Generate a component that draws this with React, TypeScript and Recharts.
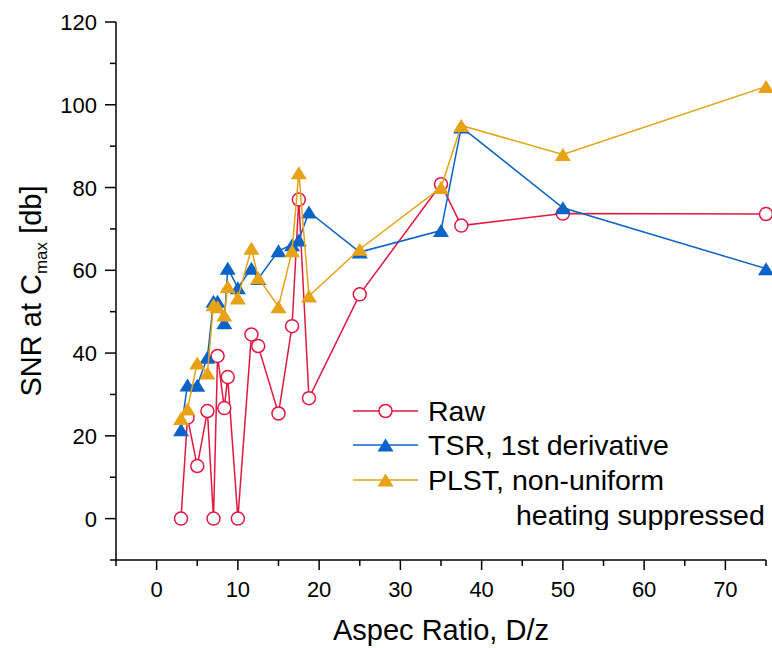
import React from "react";
import {
  ScatterChart,
  Scatter,
  XAxis,
  YAxis,
  Legend,
} from "recharts";

// Aspect ratio D/z, shared by the three series
const aspectRatio = [
  3, 3.8, 5, 6.25, 7, 7.5, 8.33, 8.75, 10, 11.67, 12.5, 15, 16.67, 17.5, 18.75,
  25, 35, 37.5, 50, 75,
];
const rawSnr = [
  0, 24.4, 12.7, 26, 0, 39.3, 26.7, 34.2, 0, 44.5, 41.7, 25.4, 46.5, 77.1,
  29.1, 54.2, 80.8, 70.8, 73.7, 73.6,
];
const tsrSnr = [
  21.5, 32.3, 32.2, 39, 52.5, 52.5, 47.3, 60.5, 55.8, 60.5, 58, 64.7, 66.2,
  67.3, 74.1, 64.4, 69.6, 94.6, 75.1, 60.4,
];
const plstSnr = [
  24.2, 26.5, 37.6, 35.2, 51.7, 51.2, 49.2, 56.1, 53.3, 65.3, 58.2, 51.2,
  64.7, 83.6, 53.8, 65.1, 80.0, 95.0, 88.0, 104.4,
];

const xTicks = [-5, 0, 5, 10, 15, 20, 25, 30, 35, 40, 45, 50, 55, 60, 65, 70, 75];
const yTicks = [-10, 0, 10, 20, 30, 40, 50, 60, 70, 80, 90, 100, 110, 120];

const RED = "#E2173F";
const BLUE = "#0A63C7";
const ORANGE = "#E8A218";

const toPoints = (ys: number[]) => aspectRatio.map((x, i) => ({ x, y: ys[i] }));

const Circle = ({ cx, cy }: any) => (
  <circle cx={cx} cy={cy} r={6.5} fill="#fff" stroke={RED} strokeWidth={1.5} />
);

const triangle = (color: string) => ({ cx, cy }: any) => (
  <polygon
    points={`${cx},${cy - 6.5} ${cx - 8},${cy + 6.5} ${cx + 8},${cy + 6.5}`}
    fill={color}
  />
);

const series = [
  { name: "Raw", color: RED, data: toPoints(rawSnr), shape: Circle },
  { name: "TSR, 1st derivative", color: BLUE, data: toPoints(tsrSnr), shape: triangle(BLUE) },
  { name: "PLST, non-uniform", color: ORANGE, data: toPoints(plstSnr), shape: triangle(ORANGE) },
];

const XTick = ({ x, y, payload }: any) => {
  const v = payload.value;
  const major = v % 10 === 0;
  return (
    <g>
      <line x1={x} x2={x} y1={y} y2={y + (major ? 10 : 6)} stroke="#000" strokeWidth={1.5} />
      {major && (
        <text x={x} y={y + 37} textAnchor="middle" fontSize={22} fill="#000">
          {v}
        </text>
      )}
    </g>
  );
};

const YTick = ({ x, y, payload }: any) => {
  const v = payload.value;
  const major = v % 20 === 0 && v >= 0;
  return (
    <g>
      <line x1={x - (major ? 11 : 6)} x2={x} y1={y} y2={y} stroke="#000" strokeWidth={1.5} />
      {major && (
        <text x={x - 19} y={y + 8} textAnchor="end" fontSize={22} fill="#000">
          {v}
        </text>
      )}
    </g>
  );
};

const XTitle = ({ viewBox }: any) => (
  <text
    x={viewBox.x + viewBox.width / 2}
    y={640}
    textAnchor="middle"
    fontSize={29}
    fill="#000"
  >
    Aspec Ratio, D/z
  </text>
);

const YTitle = ({ viewBox }: any) => {
  const cy = viewBox.y + viewBox.height / 2;
  return (
    <text
      x={41}
      y={cy}
      transform={`rotate(-90, 41, ${cy})`}
      textAnchor="middle"
      fontSize={29}
      fill="#000"
    >
      SNR at C
      <tspan fontSize={17} dy={6}>max</tspan>
      <tspan dy={-6}> [db]</tspan>
    </text>
  );
};

const LegendBox = () => (
  <svg width={432} height={140}>
    {series.map((s, i) => {
      const cy = [21, 55, 90][i];
      return (
        <g key={s.name}>
          <line x1={13} x2={78} y1={cy} y2={cy} stroke={s.color} strokeWidth={1.5} />
          {s.shape({ cx: 45.5, cy })}
          <text x={88} y={cy + 10} fontSize={28.5} fill="#000">
            {s.name}
          </text>
        </g>
      );
    })}
    <text x={176} y={135} fontSize={28.5} fill="#000">
      heating suppressed
    </text>
  </svg>
);

export default function App() {
  return (
    <div
      style={{
        position: "absolute",
        left: 0,
        top: 0,
        width: 772,
        height: 648,
        background: "#fff",
        fontFamily: "'Liberation Sans', Arial, sans-serif",
      }}
    >
      <ScatterChart
        width={772}
        height={648}
        margin={{ top: 22, right: 6, bottom: 0, left: 16 }}
      >
        <XAxis
          type="number"
          dataKey="x"
          domain={[-5, 75]}
          ticks={xTicks}
          interval={0}
          height={88}
          tickSize={0}
          tickMargin={0}
          tickLine={false}
          tick={<XTick />}
          axisLine={{ stroke: "#000", strokeWidth: 1.5 }}
          label={<XTitle />}
        />
        <YAxis
          type="number"
          dataKey="y"
          domain={[-10, 120]}
          ticks={yTicks}
          interval={0}
          width={100}
          tickSize={0}
          tickMargin={0}
          tickLine={false}
          tick={<YTick />}
          axisLine={{ stroke: "#000", strokeWidth: 1.5 }}
          label={<YTitle />}
        />
        <Legend
          layout="horizontal"
          verticalAlign="middle"
          align="center"
          width={432}
          height={140}
          wrapperStyle={{ left: 340, top: 390 }}
          content={() => <LegendBox />}
        />
        {series.map((s) => (
          <Scatter
            key={s.name}
            name={s.name}
            data={s.data}
            fill={s.color}
            line={{ stroke: s.color, strokeWidth: 1.5 }}
            lineType="joint"
            shape={s.shape}
            isAnimationActive={false}
          />
        ))}
      </ScatterChart>
    </div>
  );
}
